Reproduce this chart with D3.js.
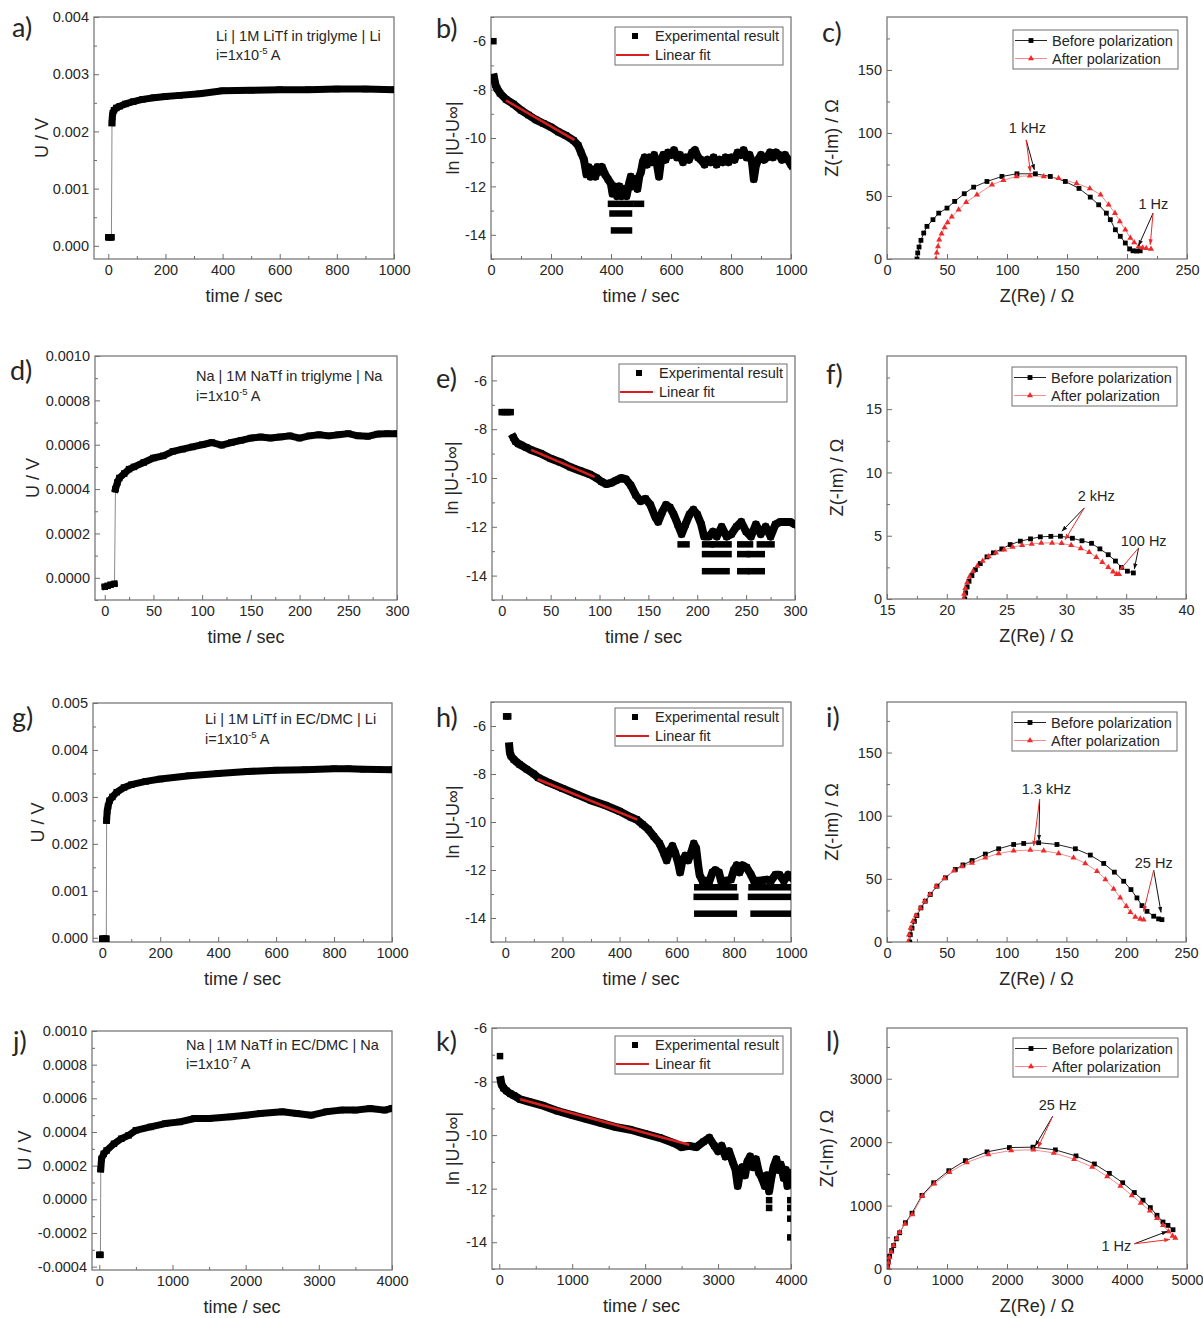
<!DOCTYPE html>
<html>
<head>
<meta charset="utf-8">
<script src="https://cdn.jsdelivr.net/npm/d3@7"></script>
<style>
  body { margin: 0; background: #fff; }
  svg text { font-family: "Liberation Sans", Arial, sans-serif; fill: #262626; }
</style>
</head>
<body>
<svg id="fig" width="1203" height="1318"></svg>
<script>
// ---- tick labels ----
var tTicks1000 = [0, 200, 400, 600, 800, 1000];
var tTicks300 = [0, 50, 100, 150, 200, 250, 300];
var tTicks4000 = [0, 1000, 2000, 3000, 4000];
var lnTicks = [-14, -12, -10, -8, -6];
var uTicksA = [0, 0.001, 0.002, 0.003, 0.004];
var uTicksD = [0, 0.0002, 0.0004, 0.0006, 0.0008, 0.001];
var uTicksG = [0, 0.001, 0.002, 0.003, 0.004, 0.005];
var uTicksJ = [-0.0004, -0.0002, 0, 0.0002, 0.0004, 0.0006, 0.0008, 0.001];
var zTicks250 = [0, 50, 100, 150, 200, 250];
var zTicks150 = [0, 50, 100, 150];
var zReTicksF = [15, 20, 25, 30, 35, 40];
var zImTicksF = [0, 5, 10, 15];
var zReTicksL = [0, 1000, 2000, 3000, 4000, 5000];
var zImTicksL = [0, 1000, 2000, 3000];

// ---- a) Li | 1M LiTf in triglyme | Li : U (V) vs time (s) ----
var aPre = [[0, 0.00015], [4, 0.00015], [8, 0.00015], [11, 0.00015]];
var aPost = [[13, 0.00215], [14, 0.00226], [16, 0.00232], [20, 0.00237], [28, 0.00241], [40, 0.00244],
  [60, 0.00248], [87, 0.00252], [120, 0.00256], [160, 0.00259], [200, 0.00261], [250, 0.00263],
  [320, 0.00266], [400, 0.00271], [500, 0.00272], [600, 0.00273], [700, 0.00273], [800, 0.00274],
  [900, 0.00274], [1000, 0.00273]];

// ---- d) Na | 1M NaTf in triglyme | Na ----
var dPre = [[0, -0.00004], [3, -0.000036], [6, -0.000031], [10, -0.000027]];
var dPost = [[11, 0.0004], [13, 0.00043], [15, 0.00045], [20, 0.00047], [25, 0.00049], [30, 0.0005],
  [40, 0.00052], [50, 0.00054], [60, 0.00055], [70, 0.00057], [80, 0.00058], [90, 0.00059],
  [100, 0.0006], [110, 0.00061], [120, 0.000598], [130, 0.00061], [140, 0.00062], [150, 0.00063],
  [160, 0.000635], [170, 0.00063], [180, 0.000635], [190, 0.00064], [200, 0.00063], [210, 0.00064],
  [220, 0.000645], [230, 0.00064], [240, 0.000645], [250, 0.00065], [260, 0.00064], [270, 0.000638],
  [280, 0.000648], [290, 0.00065], [300, 0.00065]];

// ---- g) Li | 1M LiTf in EC/DMC | Li ----
var gPre = [[0, -0.00002], [5, -0.00002], [10, -0.00002], [14, -0.00002]];
var gPost = [[15, 0.0025], [17, 0.0027], [20, 0.0028], [25, 0.00292], [35, 0.003], [50, 0.0031],
  [75, 0.0032], [100, 0.00326], [150, 0.00333], [200, 0.00338], [300, 0.00345], [400, 0.0035],
  [500, 0.00354], [600, 0.00357], [700, 0.00358], [800, 0.0036], [850, 0.0036], [900, 0.00359],
  [1000, 0.00358]];

// ---- j) Na | 1M NaTf in EC/DMC | Na ----
var jPre = [[0, -0.00033], [15, -0.00033]];
var jPost = [[20, 0.00018], [30, 0.00024], [60, 0.00027], [100, 0.00029], [200, 0.00033], [300, 0.00036],
  [400, 0.00038], [500, 0.00041], [700, 0.00043], [900, 0.00045], [1100, 0.00046], [1300, 0.00048],
  [1500, 0.00048], [1800, 0.00049], [2000, 0.0005], [2200, 0.00051], [2500, 0.00052], [2700, 0.00051],
  [2900, 0.0005], [3100, 0.00052], [3300, 0.00053], [3500, 0.00053], [3700, 0.00054], [3900, 0.00053],
  [4000, 0.00054]];

// ---- b) ln|U-Uinf| vs time, Li triglyme ----
var bStart = [[8, -6.0]];
var bTrace = [[10, -7.5], [15, -7.8], [20, -7.95], [30, -8.15], [50, -8.4], [75, -8.6], [100, -8.85],
  [125, -9.05], [150, -9.25], [175, -9.4], [200, -9.55], [225, -9.75], [250, -9.9], [275, -10.1],
  [290, -10.3], [300, -10.6], [310, -10.9], [318, -11.5], [325, -11.2], [332, -11.6], [340, -11.3],
  [348, -11.6], [355, -11.2], [362, -11.4], [370, -11.2], [380, -11.5], [390, -11.7], [400, -11.9],
  [405, -12.3], [412, -12.0], [420, -12.4], [428, -12.0], [436, -12.4], [444, -12.1], [452, -12.4],
  [460, -11.9], [466, -11.6], [472, -12.0], [480, -11.7], [488, -12.1], [494, -11.6], [500, -11.4],
  [506, -11.0], [512, -10.8], [520, -11.1], [528, -10.8], [536, -11.0], [544, -10.7], [552, -11.0],
  [560, -11.6], [566, -11.0], [574, -10.7], [582, -10.9], [590, -10.6], [600, -10.7], [610, -10.5],
  [620, -10.8], [630, -10.7], [640, -11.0], [650, -10.8], [660, -10.9], [670, -10.6], [680, -10.5],
  [690, -10.8], [700, -10.9], [712, -11.1], [722, -10.9], [732, -11.0], [742, -10.8], [752, -11.1],
  [762, -10.9], [772, -11.0], [782, -10.8], [792, -11.0], [802, -10.8], [812, -10.9], [822, -10.6],
  [832, -10.7], [842, -10.5], [852, -10.8], [862, -10.7], [870, -11.0], [876, -11.7], [882, -11.2],
  [890, -10.9], [900, -10.7], [910, -10.9], [920, -10.8], [930, -10.6], [940, -10.8], [950, -10.6],
  [960, -10.7], [970, -10.9], [980, -10.7], [990, -10.9], [1000, -11.1]];
var bRuns = [[400, 465, -12.72], [405, 460, -13.12], [410, 460, -13.82], [485, 500, -12.72]];
var bFit = [[50, -8.45], [278, -10.08]];

// ---- e) Na triglyme ----
var ePre = [[0, -7.3], [3, -7.3], [6, -7.3], [9, -7.3]];
var eTrace = [[12, -8.35], [14, -8.5], [17, -8.6], [20, -8.65], [25, -8.75], [30, -8.85], [40, -9.0],
  [50, -9.2], [60, -9.35], [70, -9.55], [80, -9.7], [90, -9.85], [97, -10.0], [102, -10.15],
  [107, -10.25], [112, -10.2], [117, -10.1], [122, -10.0], [127, -10.05], [132, -10.3], [137, -10.7],
  [142, -10.95], [147, -10.85], [152, -11.1], [157, -11.6], [160, -11.8], [164, -11.4], [168, -11.1],
  [172, -11.2], [176, -11.5], [180, -11.9], [184, -12.3], [188, -11.9], [192, -11.5], [196, -11.3],
  [200, -11.5], [204, -11.9], [207, -12.4], [212, -12.4], [216, -12.2], [220, -12.4], [225, -12.0],
  [230, -12.4], [235, -12.3], [240, -12.0], [245, -11.8], [250, -12.2], [255, -12.4], [260, -11.9],
  [265, -12.3], [270, -12.0], [275, -12.4], [280, -11.9], [285, -11.8], [290, -11.8], [295, -11.8],
  [300, -11.9]];
var eRuns = [[183, 189, -12.72], [208, 214, -12.72], [217, 232, -12.72], [244, 254, -12.72], [264, 276, -12.72],
  [208, 232, -13.12], [244, 251, -13.12], [254, 266, -13.12],
  [208, 230, -13.82], [244, 250, -13.82], [255, 266, -13.82]];
var eFit = [[30, -8.85], [95, -9.95]];

// ---- h) Li EC/DMC ----
var hPre = [[3, -5.6], [10, -5.6]];
var hTrace = [[14, -6.85], [16, -7.1], [20, -7.25], [30, -7.4], [50, -7.6], [75, -7.8], [100, -8.0],
  [115, -8.15], [150, -8.35], [200, -8.6], [250, -8.85], [300, -9.1], [350, -9.3], [400, -9.55],
  [440, -9.8], [460, -9.9], [480, -10.1], [500, -10.3], [520, -10.6], [540, -10.9], [555, -11.3],
  [565, -11.6], [575, -11.2], [585, -11.0], [595, -11.3], [605, -11.7], [612, -12.1], [620, -11.6],
  [630, -11.4], [640, -11.6], [650, -11.3], [660, -10.9], [668, -11.1], [675, -11.8], [680, -12.2],
  [690, -12.45], [700, -12.45], [715, -12.45], [725, -12.1], [735, -12.0], [748, -12.1], [755, -12.45],
  [770, -12.45], [790, -12.4], [800, -12.0], [810, -11.8], [820, -12.1], [830, -11.8], [845, -11.9],
  [860, -12.2], [870, -12.45], [890, -12.45], [915, -12.4], [930, -12.45], [945, -12.2], [960, -12.2],
  [975, -12.45], [990, -12.2], [1000, -12.3]];
var hRuns = [[672, 800, -12.72], [862, 1000, -12.72], [670, 805, -13.12], [860, 1000, -13.12],
  [672, 800, -13.82], [869, 1000, -13.82]];
var hFit = [[113, -8.22], [462, -9.9]];

// ---- k) Na EC/DMC ----
var kStart = [[10, -7.05]];
var kTrace = [[20, -7.95], [30, -8.1], [60, -8.25], [100, -8.35], [150, -8.45], [200, -8.52], [286, -8.66],
  [400, -8.75], [600, -8.9], [800, -9.1], [1000, -9.25], [1200, -9.4], [1400, -9.55], [1600, -9.7],
  [1800, -9.8], [2000, -9.95], [2200, -10.1], [2400, -10.3], [2500, -10.45], [2600, -10.4],
  [2700, -10.45], [2800, -10.25], [2880, -10.1], [2950, -10.4], [3000, -10.6], [3050, -10.4],
  [3100, -10.8], [3150, -10.6], [3200, -11.0], [3240, -11.3], [3270, -11.9], [3300, -11.4],
  [3330, -11.2], [3370, -11.5], [3400, -11.0], [3440, -10.8], [3480, -11.2], [3520, -10.9],
  [3560, -11.4], [3600, -11.6], [3640, -11.9], [3670, -11.5], [3700, -12.1], [3730, -11.6],
  [3760, -11.2], [3800, -10.9], [3830, -11.3], [3860, -11.1], [3900, -11.6], [3930, -11.3],
  [3950, -11.9], [3970, -11.4], [3990, -11.8], [4000, -11.6]];
var kRuns = [[3700, 3700, -12.43], [3700, 3700, -12.72], [3990, 3990, -12.43], [3990, 3990, -12.72],
  [3990, 3990, -13.12], [3990, 3990, -13.82]];
var kFit = [[286, -8.66], [2605, -10.36]];

// ---- c) impedance Li triglyme: [Z(Re), Z(-Im)] ----
var cBefore = [[25, 0], [25.6, 4.8], [26.7, 9.5], [28.3, 14.8], [30.6, 20.6], [33.3, 25.9], [38.3, 31.2],
  [43.1, 36.4], [50, 40.4], [56.4, 45.7], [64.4, 51.8], [72.2, 57], [83.3, 61.5], [95.8, 65.5],
  [108.3, 67.6], [123.6, 67.6], [136.1, 65.5], [148.6, 61.5], [160, 56], [169.4, 49.1], [176.4, 43],
  [182.8, 36.4], [186.1, 31.2], [190.3, 23.2], [194.4, 18], [198.6, 12.7], [202.2, 8], [205, 6.5],
  [208, 6.3], [211, 6.5]];
var cAfter = [[40.8, 0], [41.5, 5], [42.5, 10], [43.5, 15.3], [45.5, 20], [48, 25], [50.5, 29], [54, 33.5],
  [59.7, 39], [66, 45], [75, 51], [87.5, 58.9], [97, 62.5], [108, 65.5], [119, 66], [130.6, 65.5],
  [143, 64], [158, 60], [169, 56], [178, 51], [184.7, 43], [190, 36.4], [194, 29.8], [198.6, 23.2],
  [202.8, 16.6], [206, 13], [209.7, 10], [213, 9], [216, 8.5], [220, 8]];
var cLabels = [["1 kHz", 117, 104], ["1 Hz", 222, 44]];
var cArrows = [[116, 94.5, 122.8, 70.8, "before"], [116, 94.5, 119.4, 69.4, "after"],
  [221.7, 36.4, 209.7, 10.6, "before"], [221.7, 36.4, 219.4, 11.4, "after"]];

// ---- f) impedance Na triglyme ----
var fBefore = [[21.5, 0], [21.58, 0.48], [21.7, 0.95], [21.86, 1.4], [22.1, 1.85], [22.39, 2.32], [22.8, 2.8],
  [23.36, 3.33], [23.9, 3.65], [24.6, 3.96], [25.3, 4.3], [26.15, 4.57], [27.0, 4.75], [27.82, 4.91],
  [28.7, 4.95], [29.5, 4.96], [30.5, 4.8], [31.3, 4.6], [32.1, 4.4], [32.8, 3.96], [33.5, 3.5],
  [34.1, 3.0], [34.6, 2.5], [35.1, 2.2], [35.6, 2.06]];
var fAfter = [[21.4, 0], [21.45, 0.4], [21.55, 0.85], [21.7, 1.3], [21.9, 1.75], [22.2, 2.2], [22.55, 2.6],
  [23.0, 3.0], [23.5, 3.35], [24.1, 3.65], [24.8, 3.9], [25.5, 4.1], [26.3, 4.25], [27.1, 4.35],
  [27.9, 4.42], [28.8, 4.43], [29.6, 4.4], [30.4, 4.25], [31.2, 4.0], [31.9, 3.7], [32.5, 3.3],
  [33.0, 2.9], [33.5, 2.5], [33.9, 2.15], [34.2, 1.95], [34.4, 1.95]];
var fLabels = [["2 kHz", 32.5, 8.13], ["100 Hz", 36.46, 4.57]];
var fArrows = [[31.5, 7.2, 29.63, 5.36, "before"], [31.5, 7.2, 29.9, 4.7, "after"],
  [36.04, 4.04, 35.68, 2.38, "before"], [36.04, 4.04, 34.45, 2.27, "after"]];

// ---- i) impedance Li EC/DMC ----
var iBefore = [[19, 0], [19.5, 5.8], [20.9, 11], [22.9, 16.4], [25, 20.9], [28.4, 27], [32, 32.3], [36.2, 37.6],
  [41.8, 44.2], [48.8, 50.8], [57.1, 57.4], [63.5, 61], [71.1, 64.5], [82.2, 69.6], [93.4, 73.8],
  [105.9, 77.2], [114.3, 78], [126.8, 78.6], [142.1, 77.2], [157.5, 73.8], [170, 68.8], [181.2, 62.2],
  [190.1, 55.3], [197.9, 48.1], [204, 41.5], [209, 34.9], [213.2, 28.8], [217.4, 24.3], [223, 20.4],
  [227.1, 18.3], [229.9, 17.7]];
var iAfter = [[17.6, 0], [18.4, 5.8], [19.8, 11], [21.7, 16.4], [24.2, 20.9], [27.9, 27], [31.5, 32.3],
  [35.8, 37.6], [41.2, 44.2], [48, 50.5], [56, 56.5], [63, 59.8], [71.1, 62.6], [82.2, 66.7],
  [93.4, 70.1], [105.9, 72.2], [119.8, 72.8], [131, 72.2], [143.5, 70.1], [156, 66.7], [165.8, 62.2],
  [175.6, 56.1], [182.6, 49.5], [189.5, 42], [195, 35], [200.1, 28.3], [203.5, 23.5], [207.6, 19.8],
  [211.8, 18.3], [214.6, 17.7]];
var iLabels = [["1.3 kHz", 133.2, 120.9], ["25 Hz", 223, 62.7]];
var iArrows = [[127.6, 113, 127.1, 80.7, "before"], [127.6, 113, 122.6, 76, "after"],
  [223, 56.9, 229.1, 23.5, "before"], [223, 56.9, 214.6, 24.3, "after"]];

// ---- l) impedance Na EC/DMC ----
var lBefore = [[11, 42], [22, 116], [44, 201], [78, 291], [111, 370], [156, 476], [211, 571], [306, 730],
  [417, 880], [583, 1160], [778, 1360], [1030, 1550], [1306, 1709], [1667, 1847], [2040, 1915],
  [2433, 1921], [2806, 1878], [3150, 1783], [3456, 1656], [3706, 1508], [3928, 1360], [4122, 1206],
  [4267, 1085], [4389, 968], [4500, 847], [4600, 741], [4683, 688], [4767, 619]];
var lAfter = [[15, 30], [25, 100], [40, 180], [70, 270], [110, 370], [160, 480], [210, 580], [300, 710],
  [420, 860], [590, 1150], [790, 1345], [1040, 1525], [1330, 1680], [1690, 1805], [2070, 1870],
  [2440, 1880], [2780, 1830], [3120, 1730], [3420, 1610], [3670, 1460], [3890, 1310], [4080, 1160],
  [4230, 1040], [4380, 920], [4500, 800], [4600, 690], [4690, 590], [4760, 520], [4806, 487]];
var lLabels = [["25 Hz", 2844, 2582], ["1 Hz", 3822, 370]];
var lArrows = [[2761, 2407, 2472, 1942, "before"], [2761, 2407, 2517, 1915, "after"],
  [4122, 397, 4667, 593, "before"], [4122, 397, 4711, 466, "after"]];

// ---- drawing ----
var svg = d3.select("#fig");
var defs = svg.append("defs");
var FRAME = "#6e6e6e";
var RED = "#ee2a2a";
var RED_LINE = "#f08c8c";
var TICK_FONT = 14.5;

function arrowMarker(id, color) {
  defs.append("marker").attr("id", id)
    .attr("viewBox", "0 0 10 10").attr("refX", 9).attr("refY", 5)
    .attr("markerWidth", 6).attr("markerHeight", 6).attr("orient", "auto")
    .append("path").attr("d", "M0,1.5L10,5L0,8.5z").attr("fill", color);
}
arrowMarker("arr-before", "#111");
arrowMarker("arr-after", RED);

function minorTicks(ticks, domain) {
  var step = ticks[1] - ticks[0];
  var lo = Math.min(domain[0], domain[1]) - 1e-12, hi = Math.max(domain[0], domain[1]) + 1e-12;
  var out = [];
  for (var v = ticks[0] - step / 2; v >= lo; v -= step) out.push(v);
  ticks.forEach(function(t) { if (t + step / 2 <= hi) out.push(t + step / 2); });
  return out;
}

function fmt(spec) {
  var f = d3.format(spec);
  return function(v) { return f(v).replace("\u2212", "-"); };
}

function drawPanel(p) {
  var fr = p.frame;
  var x = d3.scaleLinear().domain(p.xDomain).range([fr.x, fr.x + fr.w]);
  var y = d3.scaleLinear().domain(p.yDomain).range([fr.y + fr.h, fr.y]);
  var g = svg.append("g").attr("class", "panel-" + p.id);

  defs.append("clipPath").attr("id", "clip-" + p.id)
    .append("rect").attr("x", fr.x).attr("y", fr.y).attr("width", fr.w).attr("height", fr.h);

  // axes, ticks pointing inward like the original
  var axG = g.append("g");
  axG.append("g").attr("transform", "translate(0," + (fr.y + fr.h) + ")")
    .call(d3.axisBottom(x).tickValues(minorTicks(p.xTicks, p.xDomain)).tickSizeInner(-3).tickSizeOuter(0).tickFormat(""));
  axG.append("g").attr("transform", "translate(" + fr.x + ",0)")
    .call(d3.axisLeft(y).tickValues(minorTicks(p.yTicks, p.yDomain)).tickSizeInner(-3).tickSizeOuter(0).tickFormat(""));
  axG.append("g").attr("transform", "translate(0," + (fr.y + fr.h) + ")")
    .call(d3.axisBottom(x).tickValues(p.xTicks).tickSizeInner(-5).tickSizeOuter(0).tickPadding(6).tickFormat(fmt(p.xFmt)));
  axG.append("g").attr("transform", "translate(" + fr.x + ",0)")
    .call(d3.axisLeft(y).tickValues(p.yTicks).tickSizeInner(-5).tickSizeOuter(0).tickPadding(5).tickFormat(fmt(p.yFmt)));
  axG.selectAll(".domain").remove();
  axG.selectAll("g").attr("font-size", TICK_FONT).attr("font-family", null);
  axG.selectAll(".tick line").attr("stroke", FRAME);
  axG.selectAll(".tick text").attr("fill", "#262626").attr("font-size", TICK_FONT);

  g.append("rect").attr("x", fr.x).attr("y", fr.y).attr("width", fr.w).attr("height", fr.h)
    .attr("fill", "none").attr("stroke", FRAME).attr("stroke-width", 1.2);

  // titles
  g.append("text").attr("x", fr.x + fr.w / 2).attr("y", fr.y + fr.h + 37)
    .attr("text-anchor", "middle").attr("dominant-baseline", "central").attr("font-size", 18)
    .text(p.xTitle);
  g.append("text")
    .attr("transform", "translate(" + (fr.x - p.yTitleOff) + "," + (fr.y + fr.h / 2) + ") rotate(-90)")
    .attr("text-anchor", "middle").attr("dominant-baseline", "central").attr("font-size", 18)
    .text(p.yTitle);

  // panel letter
  svg.append("text").attr("x", p.letter[0]).attr("y", p.letter[1])
    .attr("dominant-baseline", "central").attr("font-size", 27)
    .style("font-family", "Lato, 'Open Sans', sans-serif").text(p.id + ")");

  var data = g.append("g").attr("clip-path", "url(#clip-" + p.id + ")");
  var line = d3.line().x(function(d) { return x(d[0]); }).y(function(d) { return y(d[1]); });

  function squares(pts, s) {
    data.append("g").selectAll("rect").data(pts).enter().append("rect")
      .attr("x", function(d) { return x(d[0]) - s / 2; }).attr("y", function(d) { return y(d[1]) - s / 2; })
      .attr("width", s).attr("height", s).attr("fill", "#000");
  }
  function band(pts, w) {
    data.append("path").datum(pts).attr("d", line).attr("fill", "none").attr("stroke", "#000")
      .attr("stroke-width", w).attr("stroke-linejoin", "round").attr("stroke-linecap", "square");
    squares(pts, 6.5);
  }

  if (p.kind === "ut") {
    data.append("path").datum(p.pre.concat(p.post)).attr("d", line)
      .attr("fill", "none").attr("stroke", "#8a8a8a").attr("stroke-width", 1);
    band(p.pre, 6);
    band(p.post, 7);
    g.append("text").attr("x", p.note[0]).attr("y", p.note[1])
      .attr("dominant-baseline", "central").attr("font-size", 14.5).text(p.cell);
    var n2 = g.append("text").attr("x", p.note[0]).attr("y", p.note[2])
      .attr("dominant-baseline", "central").attr("font-size", 14.5);
    n2.append("tspan").text("i=1x10");
    n2.append("tspan").attr("font-size", 9.5).attr("dy", -5).text(p.exp);
    n2.append("tspan").attr("dy", 5).text(" A");
  }

  if (p.kind === "ln") {
    data.append("g").selectAll("rect").data(p.runs).enter().append("rect")
      .attr("x", function(d) { return x(d[0]) - 3.25; })
      .attr("y", function(d) { return y(d[2]) - 3.25; })
      .attr("width", function(d) { return x(d[1]) - x(d[0]) + 6.5; })
      .attr("height", 6.5).attr("fill", "#000");
    if (p.start) squares(p.start, 6.5);
    if (p.pre) band(p.pre, 6);
    band(p.trace, 8);
    data.append("path").datum(p.fit).attr("d", line).attr("fill", "none")
      .attr("stroke", "#d81e1e").attr("stroke-width", 2.5);

    var lg = g.append("g").attr("transform", "translate(" + (fr.x + fr.w - 8 - 168) + "," + (fr.y + p.legendTop) + ")");
    lg.append("rect").attr("width", 168).attr("height", 38).attr("fill", "#fff").attr("stroke", FRAME);
    lg.append("rect").attr("x", 17).attr("y", 6).attr("width", 6).attr("height", 6).attr("fill", "#000");
    lg.append("line").attr("x1", 1).attr("x2", 34).attr("y1", 28).attr("y2", 28)
      .attr("stroke", "#d81e1e").attr("stroke-width", 2);
    lg.append("text").attr("x", 40).attr("y", 9).attr("dominant-baseline", "central").attr("font-size", 14.5).text("Experimental result");
    lg.append("text").attr("x", 40).attr("y", 28).attr("dominant-baseline", "central").attr("font-size", 14.5).text("Linear fit");
  }

  if (p.kind === "eis") {
    data.append("path").datum(p.before).attr("d", line).attr("fill", "none").attr("stroke", "#222").attr("stroke-width", 1);
    data.append("path").datum(p.after).attr("d", line).attr("fill", "none").attr("stroke", RED_LINE).attr("stroke-width", 1);
    data.append("g").selectAll("rect").data(p.before).enter().append("rect")
      .attr("x", function(d) { return x(d[0]) - 2.4; }).attr("y", function(d) { return y(d[1]) - 2.4; })
      .attr("width", 4.8).attr("height", 4.8).attr("fill", "#000");
    var tri = d3.symbol().type(d3.symbolTriangle).size(16);
    data.append("g").selectAll("path").data(p.after).enter().append("path")
      .attr("d", tri).attr("fill", RED)
      .attr("transform", function(d) { return "translate(" + x(d[0]) + "," + y(d[1]) + ")"; });

    g.append("g").selectAll("line").data(p.arrows).enter().append("line")
      .attr("x1", function(d) { return x(d[0]); }).attr("y1", function(d) { return y(d[1]); })
      .attr("x2", function(d) { return x(d[2]); }).attr("y2", function(d) { return y(d[3]); })
      .attr("stroke", function(d) { return d[4] === "before" ? "#111" : RED; })
      .attr("stroke-width", 1)
      .attr("marker-end", function(d) { return "url(#arr-" + d[4] + ")"; });
    g.append("g").selectAll("text").data(p.labels).enter().append("text")
      .attr("x", function(d) { return x(d[1]); }).attr("y", function(d) { return y(d[2]); })
      .attr("text-anchor", "middle").attr("dominant-baseline", "central").attr("font-size", 14.5)
      .text(function(d) { return d[0]; });

    var lg2 = g.append("g").attr("transform", "translate(" + (fr.x + fr.w - 9 - 165) + "," + (fr.y + p.legendTop) + ")");
    lg2.append("rect").attr("width", 165).attr("height", 39).attr("fill", "#fff").attr("stroke", FRAME);
    lg2.append("line").attr("x1", 2).attr("x2", 34).attr("y1", 10.5).attr("y2", 10.5).attr("stroke", "#222");
    lg2.append("rect").attr("x", 15.6).attr("y", 8.1).attr("width", 4.8).attr("height", 4.8).attr("fill", "#000");
    lg2.append("line").attr("x1", 2).attr("x2", 34).attr("y1", 28.5).attr("y2", 28.5).attr("stroke", RED_LINE);
    lg2.append("path").attr("d", d3.symbol().type(d3.symbolTriangle).size(16)).attr("fill", RED)
      .attr("transform", "translate(18,28.5)");
    lg2.append("text").attr("x", 39).attr("y", 10.5).attr("dominant-baseline", "central").attr("font-size", 14.5).text("Before polarization");
    lg2.append("text").attr("x", 39).attr("y", 28.5).attr("dominant-baseline", "central").attr("font-size", 14.5).text("After polarization");
  }
}

var T = "time / sec", UV = "U / V", LN = "ln |U-U\u221E|", ZIM = "Z(-Im) / \u03A9", ZRE = "Z(Re) / \u03A9";

var panels = [
  { id: "a", kind: "ut", frame: { x: 94, y: 17, w: 300, h: 242 }, xDomain: [-50, 1000], yDomain: [-0.00023, 0.004],
    xTicks: tTicks1000, yTicks: uTicksA, xFmt: "d", yFmt: ".3f", xTitle: T, yTitle: UV, yTitleOff: 52,
    letter: [12, 26], pre: aPre, post: aPost, cell: "Li | 1M LiTf in triglyme | Li", exp: "-5", note: [216, 36, 55] },
  { id: "b", kind: "ln", frame: { x: 491, y: 17, w: 300, h: 242 }, xDomain: [0, 1000], yDomain: [-15, -5],
    xTicks: tTicks1000, yTicks: lnTicks, xFmt: "d", yFmt: "d", xTitle: T, yTitle: LN, yTitleOff: 38,
    letter: [436, 27], start: bStart, trace: bTrace, runs: bRuns, fit: bFit, legendTop: 10 },
  { id: "c", kind: "eis", frame: { x: 887, y: 17, w: 300, h: 242 }, xDomain: [0, 250], yDomain: [0, 192],
    xTicks: zTicks250, yTicks: zTicks150, xFmt: "d", yFmt: "d", xTitle: ZRE, yTitle: ZIM, yTitleOff: 55,
    letter: [822, 31], before: cBefore, after: cAfter, labels: cLabels, arrows: cArrows, legendTop: 13 },

  { id: "d", kind: "ut", frame: { x: 95, y: 356, w: 302, h: 244 }, xDomain: [-10, 300], yDomain: [-0.0001, 0.001],
    xTicks: tTicks300, yTicks: uTicksD, xFmt: "d", yFmt: ".4f", xTitle: T, yTitle: UV, yTitleOff: 62,
    letter: [10, 369], pre: dPre, post: dPost, cell: "Na | 1M NaTf in triglyme | Na", exp: "-5", note: [196, 376, 396] },
  { id: "e", kind: "ln", frame: { x: 492, y: 356, w: 303, h: 244 }, xDomain: [-10, 300], yDomain: [-15, -5],
    xTicks: tTicks300, yTicks: lnTicks, xFmt: "d", yFmt: "d", xTitle: T, yTitle: LN, yTitleOff: 40,
    letter: [436, 377], pre: ePre, trace: eTrace, runs: eRuns, fit: eFit, legendTop: 8 },
  { id: "f", kind: "eis", frame: { x: 887, y: 356, w: 299, h: 243 }, xDomain: [15, 40], yDomain: [0, 19.2],
    xTicks: zReTicksF, yTicks: zImTicksF, xFmt: "d", yFmt: "d", xTitle: ZRE, yTitle: ZIM, yTitleOff: 50,
    letter: [826, 373], before: fBefore, after: fAfter, labels: fLabels, arrows: fArrows, legendTop: 11 },

  { id: "g", kind: "ut", frame: { x: 93, y: 703, w: 299, h: 239 }, xDomain: [-32, 1000], yDomain: [-0.00009, 0.005],
    xTicks: tTicks1000, yTicks: uTicksG, xFmt: "d", yFmt: ".3f", xTitle: T, yTitle: UV, yTitleOff: 55,
    letter: [12, 716], pre: gPre, post: gPost, cell: "Li | 1M LiTf in EC/DMC | Li", exp: "-5", note: [205, 719, 739] },
  { id: "h", kind: "ln", frame: { x: 491, y: 702, w: 300, h: 240 }, xDomain: [-50, 1000], yDomain: [-15, -5],
    xTicks: tTicks1000, yTicks: lnTicks, xFmt: "d", yFmt: "d", xTitle: T, yTitle: LN, yTitleOff: 38,
    letter: [436, 716], pre: hPre, trace: hTrace, runs: hRuns, fit: hFit, legendTop: 6 },
  { id: "i", kind: "eis", frame: { x: 887, y: 702, w: 299, h: 240 }, xDomain: [0, 250], yDomain: [0, 190],
    xTicks: zTicks250, yTicks: zTicks150, xFmt: "d", yFmt: "d", xTitle: ZRE, yTitle: ZIM, yTitleOff: 55,
    letter: [826, 716], before: iBefore, after: iAfter, labels: iLabels, arrows: iArrows, legendTop: 10 },

  { id: "j", kind: "ut", frame: { x: 92, y: 1031, w: 300, h: 239 }, xDomain: [-100, 4000], yDomain: [-0.00042, 0.001],
    xTicks: tTicks4000, yTicks: uTicksJ, xFmt: "d", yFmt: ".4f", xTitle: T, yTitle: UV, yTitleOff: 67,
    letter: [13, 1040], pre: jPre, post: jPost, cell: "Na | 1M NaTf in EC/DMC | Na", exp: "-7", note: [186, 1045, 1064] },
  { id: "k", kind: "ln", frame: { x: 492, y: 1028, w: 299, h: 241 }, xDomain: [-100, 4000], yDomain: [-15, -6],
    xTicks: tTicks4000, yTicks: lnTicks, xFmt: "d", yFmt: "d", xTitle: T, yTitle: LN, yTitleOff: 39,
    letter: [436, 1040], start: kStart, trace: kTrace, runs: kRuns, fit: kFit, legendTop: 8 },
  { id: "l", kind: "eis", frame: { x: 887, y: 1028, w: 300, h: 241 }, xDomain: [0, 5000], yDomain: [0, 3800],
    xTicks: zReTicksL, yTicks: zImTicksL, xFmt: "d", yFmt: "d", xTitle: ZRE, yTitle: ZIM, yTitleOff: 60,
    letter: [826, 1040], before: lBefore, after: lAfter, labels: lLabels, arrows: lArrows, legendTop: 10 }
];

panels.forEach(drawPanel);
</script>
</body>
</html>
